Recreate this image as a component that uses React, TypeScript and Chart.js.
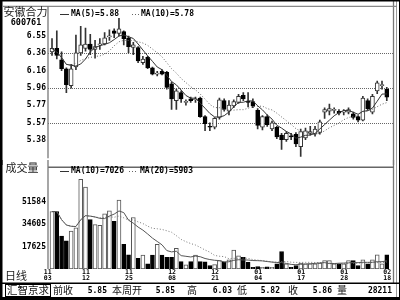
import { useEffect, useRef } from 'react';
import { Chart, registerables } from 'chart.js';

Chart.register(...registerables);

const stockName = '安徽合力';
const stockCode = '600761';
const volumeTitle = '成交量';
const periodLabel = '日线';
const sourceLabel = '汇智京求';

const openPrices = [
  6.37, 6.41, 6.28, 6.18, 5.99, 6.20, 6.36, 6.41, 6.46, 6.40,
  6.45, 6.46, 6.54, 6.61, 6.58, 6.60, 6.53, 6.42, 6.42, 6.25,
  6.31, 6.19, 6.12, 6.15, 6.14, 6.01, 5.82, 5.91, 5.80, 5.84,
  5.83, 5.85, 5.64, 5.53, 5.52, 5.63, 5.82, 5.70, 5.76, 5.80,
  5.88, 5.81, 5.81, 5.71, 5.52, 5.64, 5.50, 5.52, 5.43, 5.38,
  5.42, 5.44, 5.30, 5.40, 5.45, 5.44, 5.46, 5.69, 5.70, 5.71,
  5.70, 5.69, 5.69, 5.67, 5.64, 5.60, 5.82, 5.69, 5.93, 5.99,
  5.95,
];
const highPrices = [
  6.52, 6.61, 6.37, 6.19, 6.23, 6.56, 6.66, 6.64, 6.57, 6.50,
  6.52, 6.59, 6.62, 6.63, 6.75, 6.61, 6.55, 6.48, 6.43, 6.32,
  6.32, 6.20, 6.15, 6.17, 6.15, 6.03, 5.95, 5.93, 5.83, 5.86,
  5.86, 5.86, 5.65, 5.57, 5.63, 5.85, 5.84, 5.82, 5.83, 5.89,
  5.91, 5.91, 5.84, 5.73, 5.65, 5.66, 5.59, 5.53, 5.45, 5.47,
  5.45, 5.46, 5.50, 5.51, 5.53, 5.53, 5.60, 5.74, 5.78, 5.74,
  5.72, 5.72, 5.74, 5.69, 5.65, 5.87, 5.84, 5.89, 6.04, 6.04,
  5.97,
];
const lowPrices = [
  6.33, 6.29, 6.16, 5.91, 5.96, 6.17, 6.33, 6.38, 6.34, 6.30,
  6.40, 6.45, 6.50, 6.53, 6.55, 6.45, 6.36, 6.34, 6.25, 6.23,
  6.18, 6.11, 6.10, 6.11, 5.95, 5.72, 5.72, 5.80, 5.77, 5.80,
  5.80, 5.63, 5.48, 5.48, 5.50, 5.61, 5.70, 5.66, 5.74, 5.79,
  5.82, 5.75, 5.74, 5.50, 5.49, 5.53, 5.48, 5.39, 5.27, 5.36,
  5.38, 5.30, 5.19, 5.38, 5.43, 5.42, 5.44, 5.62, 5.66, 5.68,
  5.66, 5.66, 5.67, 5.61, 5.58, 5.59, 5.71, 5.67, 5.90, 5.95,
  5.82,
];
const closePrices = [
  6.41, 6.33, 6.18, 6.00, 6.18, 6.36, 6.45, 6.46, 6.40, 6.43,
  6.46, 6.53, 6.55, 6.58, 6.63, 6.52, 6.43, 6.45, 6.27, 6.29,
  6.19, 6.12, 6.13, 6.12, 5.97, 5.84, 5.93, 5.84, 5.81, 5.82,
  5.84, 5.64, 5.56, 5.52, 5.62, 5.83, 5.72, 5.77, 5.81, 5.87,
  5.84, 5.80, 5.76, 5.54, 5.64, 5.55, 5.57, 5.41, 5.38, 5.45,
  5.41, 5.33, 5.47, 5.48, 5.47, 5.50, 5.58, 5.72, 5.73, 5.715,
  5.68, 5.70, 5.72, 5.63, 5.60, 5.85, 5.73, 5.87, 6.02, 6.00,
  5.86,
];
const volumes = [
  44200, 44200, 25600, 21900, 29300, 31800, 68600, 62800, 38000, 34300,
  33800, 42500, 44700, 36800, 52900, 19400, 11400, 39700, 8700, 11200,
  4500, 11200, 19400, 11200, 9400, 9400, 16400, 6200, 3800, 6200,
  11200, 6200, 6000, 3300, 3900, 7000, 6000, 7500, 14900, 10700,
  9400, 5700, 2000, 2500, 2000, 2200, 2000, 4500, 13900, 4500,
  2000, 3300, 5200, 4500, 4500, 4500, 5200, 7000, 7000, 4500,
  4500, 4500, 7000, 7000, 3300, 7500, 4500, 7500, 11400, 4500,
  11400,
];

const priceTickValues = [6.552, 6.356, 6.16, 5.964, 5.768, 5.572, 5.376];
const priceTickLabels = ['6.55', '6.36', '6.16', '5.96', '5.77', '5.57', '5.38'];
const priceGridValues = [6.356, 5.964, 5.572];
const volumeTickValues = [51584, 34605, 17625];
const volumeTickLabels = ['51584', '34605', '17625'];
const dateTickIndexes = [-1, 7, 16, 25, 34, 43, 52, 61, 70];
const dateTickMonths = ['11', '11', '11', '12', '12', '01', '01', '01', '02'];
const dateTickDays = ['03', '12', '25', '08', '21', '04', '17', '28', '18'];
const priceLegendTexts = ['MA(5)=5.88', 'MA(10)=5.78'];
const volumeLegendTexts = ['MA(10)=7026', 'MA(20)=5903'];
const infoLabels = ['前收', '本周开', '高', '低', '收', '量'];
const infoValues = ['5.85', '5.85', '6.03', '5.82', '5.86', '28211'];

const PRICE_MIN = 5.17;
const PRICE_MAX = 6.88;
const VOLUME_MIN = 645;
const VOLUME_MAX = 78090;
const X_MIN = -0.84;
const X_MAX = 71.3;

const MONO = '"DejaVu Sans Mono", monospace';
const CJK = '"Noto Sans CJK SC", sans-serif';

function movingAverage(values: number[], n: number): number[] {
  return values.map((_, i) => {
    const start = Math.max(0, i - n + 1);
    let s = 0;
    for (let k = start; k <= i; k++) s += values[k];
    return s / (i - start + 1);
  });
}

function hline(ctx: CanvasRenderingContext2D, x1: number, x2: number, y: number) {
  ctx.beginPath();
  ctx.moveTo(x1, y);
  ctx.lineTo(x2, y);
  ctx.stroke();
}
function vline(ctx: CanvasRenderingContext2D, x: number, y1: number, y2: number) {
  ctx.beginPath();
  ctx.moveTo(x, y1);
  ctx.lineTo(x, y2);
  ctx.stroke();
}

function drawSideFrame(ctx: CanvasRenderingContext2D, h: number, innerBottom: number) {
  ctx.fillStyle = '#000';
  ctx.fillRect(0, 0, 2.5, h);
  ctx.fillRect(399, 0, 1, h);
  ctx.strokeStyle = '#999';
  ctx.lineWidth = 1;
  vline(ctx, 396.5, 0, h);
  ctx.strokeStyle = '#777';
  ctx.lineWidth = 1.3;
  vline(ctx, 393.5, 0, innerBottom);
}

function drawLegend(ctx: CanvasRenderingContext2D, y: number, texts: string[], x1: number, xs2: number, x2: number) {
  ctx.font = `bold 8px ${MONO}`;
  ctx.fillStyle = '#000';
  ctx.textAlign = 'left';
  ctx.textBaseline = 'middle';
  ctx.strokeStyle = '#333';
  ctx.lineWidth = 1;
  ctx.setLineDash([]);
  hline(ctx, 60, 69, Math.round(y) + 0.5);
  ctx.fillText(texts[0], x1, y);
  ctx.strokeStyle = '#666';
  ctx.setLineDash([1, 2]);
  hline(ctx, xs2, xs2 + 8, Math.round(y) + 0.5);
  ctx.setLineDash([]);
  ctx.fillText(texts[1], x2, y);
}

export default function App() {
  const priceRef = useRef<HTMLCanvasElement | null>(null);
  const volRef = useRef<HTMLCanvasElement | null>(null);

  useEffect(() => {
    const idx = closePrices.map((_, i) => i);
    const up = idx.map((i) => closePrices[i] >= openPrices[i]);
    const ma5 = movingAverage(closePrices, 5);
    const ma10 = movingAverage(closePrices, 10);
    const vma10 = movingAverage(volumes, 10);
    const vma20 = movingAverage(volumes, 20);

    const pricePlugin = {
      id: 'priceFrame',
      beforeDatasetsDraw(chart: any) {
        const ctx: CanvasRenderingContext2D = chart.ctx;
        const { left, right } = chart.chartArea;
        const ys = chart.scales.y;
        ctx.save();
        ctx.strokeStyle = '#666';
        ctx.lineWidth = 1;
        ctx.setLineDash([1, 1]);
        priceGridValues.forEach((v) => {
          const y = Math.round(ys.getPixelForValue(v)) + 0.5;
          hline(ctx, left, right, y);
        });
        ctx.restore();
      },
      afterDraw(chart: any) {
        const ctx: CanvasRenderingContext2D = chart.ctx;
        const { left, top, bottom } = chart.chartArea;
        ctx.save();
        drawSideFrame(ctx, chart.height, chart.height);
        ctx.fillStyle = '#000';
        ctx.fillRect(0, 0, 400, 1.5);
        ctx.strokeStyle = '#888';
        ctx.lineWidth = 1.2;
        hline(ctx, 2.5, 397, top - 0.5);
        ctx.strokeStyle = '#777';
        ctx.lineWidth = 1.3;
        vline(ctx, left, top - 0.5, bottom);
        ctx.fillStyle = '#222';
        ctx.font = `11px ${CJK}`;
        ctx.textAlign = 'center';
        ctx.textBaseline = 'middle';
        ctx.fillText(stockName, 25.5, 12);
        ctx.fillStyle = '#000';
        ctx.font = `bold 8.5px ${MONO}`;
        ctx.fillText(stockCode, 26, 22.5);
        drawLegend(ctx, 13.5, priceLegendTexts, 71, 132, 141);
        ctx.restore();
      },
    };

    const volumePlugin = {
      id: 'volumeFrame',
      afterDraw(chart: any) {
        const ctx: CanvasRenderingContext2D = chart.ctx;
        const { left, top, bottom } = chart.chartArea;
        const xs = chart.scales.x;
        ctx.save();
        drawSideFrame(ctx, chart.height, 123);
        ctx.strokeStyle = '#666';
        ctx.lineWidth = 1.5;
        hline(ctx, left, 394, top + 0.5);
        ctx.strokeStyle = '#777';
        ctx.lineWidth = 1.3;
        vline(ctx, left, 0, bottom);
        ctx.fillStyle = '#222';
        ctx.font = `11px ${CJK}`;
        ctx.textAlign = 'center';
        ctx.textBaseline = 'middle';
        ctx.fillText(volumeTitle, 22, 8);
        drawLegend(ctx, 10.5, volumeLegendTexts, 71, 129, 140);
        ctx.fillStyle = '#222';
        ctx.font = `11px ${CJK}`;
        ctx.textAlign = 'left';
        ctx.fillText(periodLabel, 5, 116);
        ctx.fillStyle = '#000';
        ctx.font = `bold 6.5px ${MONO}`;
        ctx.textAlign = 'center';
        dateTickIndexes.forEach((d, k) => {
          const x = xs.getPixelForValue(d) + 0.5;
          ctx.fillText(dateTickMonths[k], x, 112.7);
          ctx.fillText(dateTickDays[k], x, 118.3);
        });
        ctx.fillStyle = '#000';
        ctx.fillRect(0, 122.5, 400, 1.5);
        ctx.fillRect(0, 137, 400, 3);
        ctx.strokeStyle = '#000';
        ctx.lineWidth = 1;
        ctx.strokeRect(5.5, 124.5, 45, 12);
        ctx.fillStyle = '#111';
        ctx.font = `10.5px ${CJK}`;
        ctx.textAlign = 'center';
        ctx.fillText(sourceLabel, 28, 130.5);
        const labelX = [53, 112, 187, 237, 288, 337];
        const valueRight = [107, 175, 232, 280, 332, 392];
        infoLabels.forEach((t, k) => {
          ctx.fillStyle = '#111';
          ctx.font = `10px ${CJK}`;
          ctx.textAlign = 'left';
          ctx.fillText(t, labelX[k], 130.5);
          ctx.fillStyle = '#000';
          ctx.font = `bold 8px ${MONO}`;
          ctx.textAlign = 'right';
          ctx.fillText(infoValues[k], valueRight[k], 130.5);
        });
        ctx.restore();
      },
    };

    const yTickFont = { family: MONO, size: 8, weight: 'bold' as const };
    const xScale = { type: 'linear', min: X_MIN, max: X_MAX, display: false, offset: false };

    const priceChart = new Chart(priceRef.current as HTMLCanvasElement, {
      type: 'bar',
      data: {
        datasets: [
          {
            type: 'line',
            data: idx.map((i) => ({ x: i, y: ma5[i] })),
            borderColor: '#333',
            borderWidth: 1,
            pointRadius: 0,
            order: 0,
          } as any,
          {
            type: 'line',
            data: idx.map((i) => ({ x: i, y: ma10[i] })),
            borderColor: '#666',
            borderWidth: 1,
            borderDash: [1, 2],
            pointRadius: 0,
            order: 0,
          } as any,
          {
            type: 'bar',
            data: idx.map((i) => ({ x: i, y: [openPrices[i], closePrices[i]] })),
            backgroundColor: idx.map((i) => (up[i] ? '#fff' : '#000')),
            borderColor: idx.map((i) => (up[i] ? '#333' : '#000')),
            borderWidth: 1,
            borderSkipped: false,
            barThickness: 4,
            grouped: false,
            minBarLength: 1,
            order: 1,
          } as any,
          {
            type: 'bar',
            data: idx.map((i) => ({ x: i, y: [lowPrices[i], highPrices[i]] })),
            backgroundColor: '#333',
            borderWidth: 0,
            barThickness: 1,
            grouped: false,
            order: 2,
          } as any,
        ],
      },
      options: {
        animation: false,
        responsive: false,
        devicePixelRatio: 1,
        layout: { padding: { left: 0, right: 7, top: 5, bottom: 0 } },
        plugins: { legend: { display: false }, tooltip: { enabled: false } },
        scales: {
          x: xScale,
          y: {
            type: 'linear',
            min: PRICE_MIN,
            max: PRICE_MAX,
            position: 'left',
            afterFit: (s: any) => {
              s.width = 48;
            },
            afterBuildTicks: (s: any) => {
              s.ticks = priceTickValues.map((v) => ({ value: v }));
            },
            ticks: {
              callback: (v: any) => priceTickLabels[priceTickValues.indexOf(Number(v))],
              font: yTickFont,
              color: '#000',
              padding: 2,
              autoSkip: false,
            },
            grid: { display: false, drawTicks: false },
            border: { display: false },
          },
        },
      } as any,
      plugins: [pricePlugin],
    });

    const volumeChart = new Chart(volRef.current as HTMLCanvasElement, {
      type: 'bar',
      data: {
        datasets: [
          {
            type: 'line',
            data: idx.map((i) => ({ x: i, y: vma10[i] })),
            borderColor: '#555',
            borderWidth: 1,
            pointRadius: 0,
            order: 0,
          } as any,
          {
            type: 'line',
            data: idx.map((i) => ({ x: i, y: vma20[i] })),
            borderColor: '#777',
            borderWidth: 1,
            borderDash: [1, 2],
            pointRadius: 0,
            order: 0,
          } as any,
          {
            type: 'bar',
            data: idx.map((i) => ({ x: i, y: volumes[i] })),
            backgroundColor: idx.map((i) => (up[i] ? '#fff' : '#000')),
            borderColor: idx.map((i) => (up[i] ? '#555' : '#000')),
            borderWidth: 1,
            borderSkipped: false,
            barThickness: 4,
            grouped: false,
            base: VOLUME_MIN,
            order: 1,
          } as any,
        ],
      },
      options: {
        animation: false,
        responsive: false,
        devicePixelRatio: 1,
        layout: { padding: { left: 0, right: 7, top: 5, bottom: 31 } },
        plugins: { legend: { display: false }, tooltip: { enabled: false } },
        scales: {
          x: xScale,
          y: {
            type: 'linear',
            min: VOLUME_MIN,
            max: VOLUME_MAX,
            position: 'left',
            afterFit: (s: any) => {
              s.width = 48;
            },
            afterBuildTicks: (s: any) => {
              s.ticks = volumeTickValues.map((v) => ({ value: v }));
            },
            ticks: {
              callback: (v: any) => volumeTickLabels[volumeTickValues.indexOf(Number(v))],
              font: yTickFont,
              color: '#000',
              padding: 2,
              autoSkip: false,
            },
            grid: { display: false, drawTicks: false },
            border: { display: false },
          },
        },
      } as any,
      plugins: [volumePlugin],
    });

    return () => {
      priceChart.destroy();
      volumeChart.destroy();
    };
  }, []);

  return (
    <div style={{ position: 'fixed', left: 0, top: 0, width: 400, height: 300, background: '#fff' }}>
      <canvas ref={priceRef} width={400} height={165} style={{ position: 'absolute', left: 0, top: 0 }} />
      <canvas ref={volRef} width={400} height={140} style={{ position: 'absolute', left: 0, top: 160 }} />
    </div>
  );
}
